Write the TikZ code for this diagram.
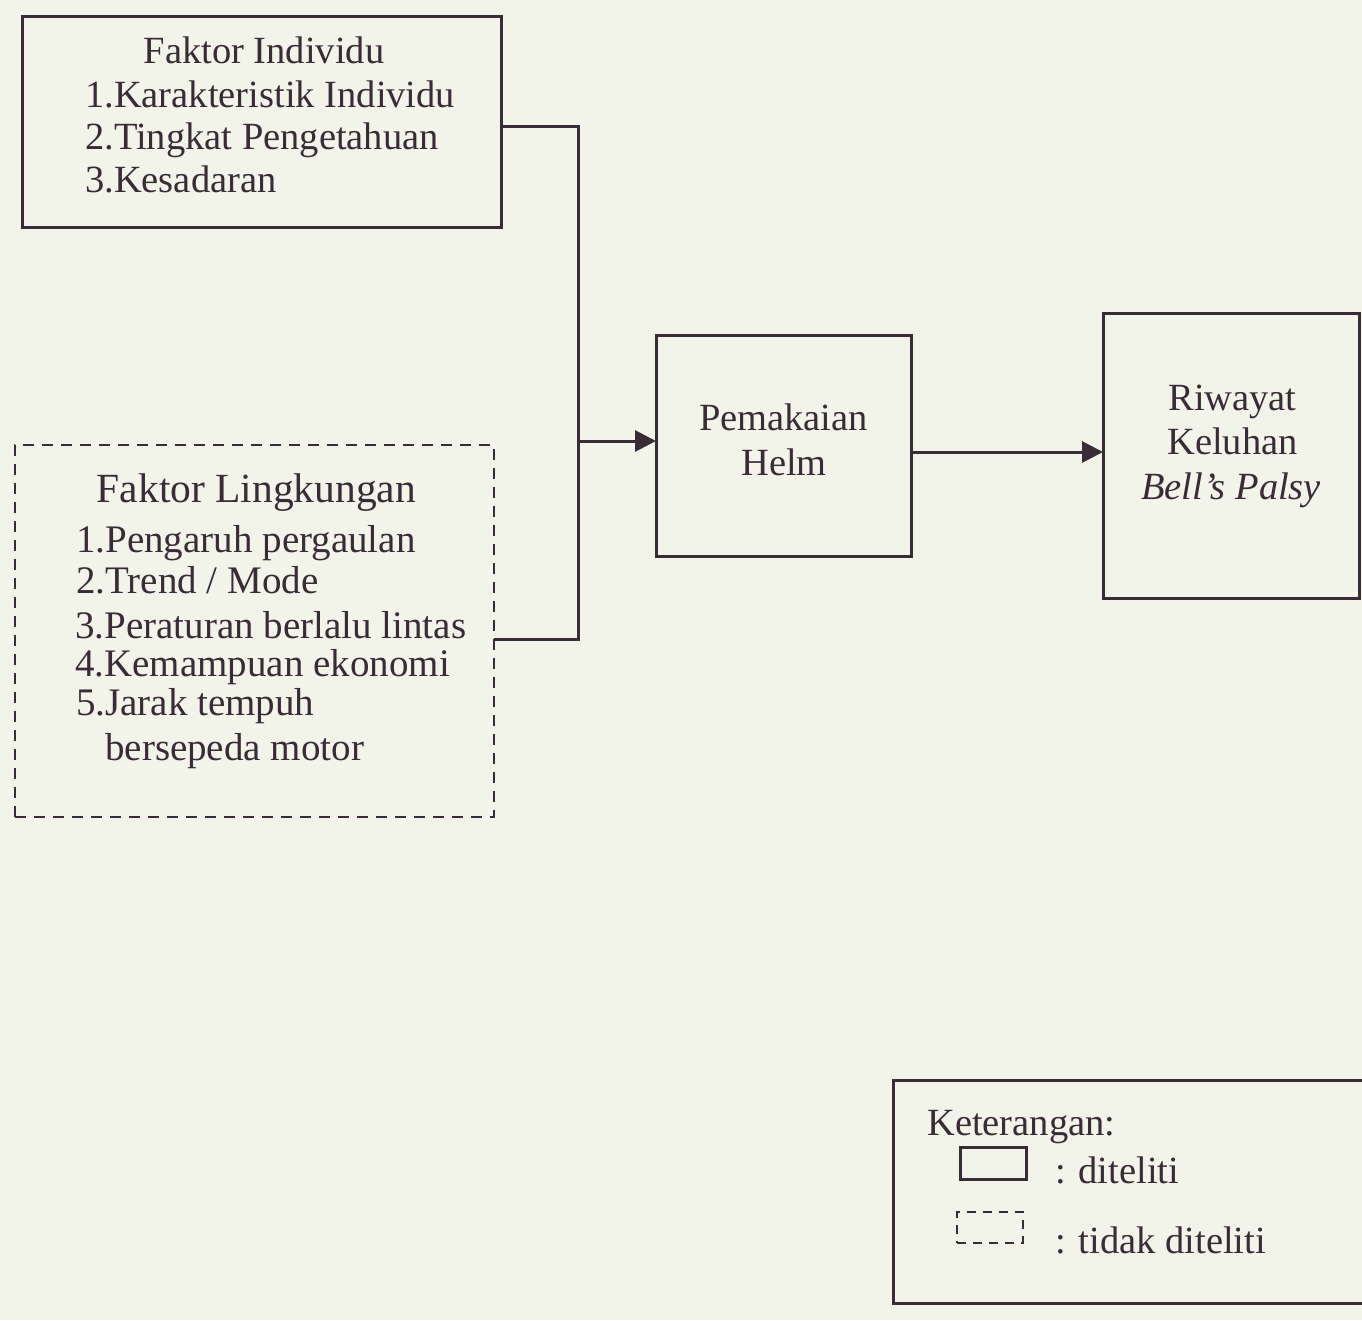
\documentclass[tikz,border=0pt]{standalone}
\usepackage{fontspec}
\setmainfont{Liberation Serif}
\usetikzlibrary{arrows.meta}
\definecolor{ink}{HTML}{3A2C36}
\definecolor{paper}{HTML}{F2F4EA}
\newcommand\fsz[1]{\fontsize{#1}{#1}\selectfont}
\begin{document}
\begin{tikzpicture}[x=1pt,y=-1pt,
  box/.style={draw=ink,line width=3pt,inner sep=0pt,outer sep=0pt},
  dbox/.style={box,line width=2.8pt,dash pattern=on 11pt off 8pt},
  txt/.style={text=ink,inner sep=0pt,anchor=base west,font=\fsz{38.5}},
  txtc/.style={txt,anchor=base},
  conn/.style={draw=ink,line width=3pt},
  arr/.style={conn,-{Triangle[length=21pt,width=21pt]}}]
\fill[paper] (0,0) rectangle (1362,1320);
\useasboundingbox (0,0) rectangle (1362,1320);
% boxes
\node[box,minimum width=479pt,minimum height=211pt] (indiv) at (261.5,121.5) {};
\node[dbox,minimum width=479pt,minimum height=372pt] (lingk) at (254.5,631) {};
\node[box,minimum width=255pt,minimum height=221pt] (helm) at (783.5,445.5) {};
\node[box,minimum width=256pt,minimum height=285pt] (riwayat) at (1231,455.5) {};
\node[box,minimum width=482pt,minimum height=223pt] (legend) at (1134,1191.5) {};
\node[box,minimum width=66pt,minimum height=32pt] (legsolid) at (993,1163) {};
\node[dbox,dash pattern=on 9pt off 7pt,minimum width=66pt,minimum height=31pt] (legdash) at (990,1227.5) {};
% texts: Faktor Individu
\node[txtc] (t1) at (264,63) {Faktor Individu};
\node[txt] (t2) at (85,107) {1.Karakteristik Individu};
\node[txt] (t3) at (85,149) {2.Tingkat Pengetahuan};
\node[txt] (t4) at (85,192) {3.Kesadaran};
% Faktor Lingkungan
\node[txtc,font=\fsz{41.5}] (l0) at (256.5,502) {Faktor Lingkungan};
\node[txt,font=\fsz{39}] (l1) at (76,552) {1.Pengaruh pergaulan};
\node[txt,font=\fsz{39}] (l2) at (76,593) {2.Trend / Mode};
\node[txt,font=\fsz{39}] (l3) at (75,638) {3.Peraturan berlalu lintas};
\node[txt,font=\fsz{39}] (l4) at (75,676) {4.Kemampuan ekonomi};
\node[txt,font=\fsz{39}] (l5) at (76,715) {5.Jarak tempuh};
\node[txt,font=\fsz{39}] (l6) at (105,760) {bersepeda motor};
% Pemakaian Helm
\node[txtc] (h1) at (783.5,430) {Pemakaian};
\node[txtc] (h2) at (784,475) {Helm};
% Riwayat
\node[txtc] (r1) at (1232.5,410) {Riwayat};
\node[txtc] (r2) at (1232.5,454) {Keluhan};
\node[txtc] (r3) at (1231,499) {\itshape Bell’s Palsy};
% legend
\node[txt] (k0) at (927,1135) {Keterangan:};
\node[txt] (k1) at (1055,1183) {: diteliti};
\node[txt] (k2) at (1055,1253) {: tidak diteliti};
% connectors
\coordinate (jt) at (578,126);
\coordinate (jb) at (578,639);
\coordinate (ja) at (578,441);
\coordinate (hr) at (1000,452);
\draw[conn] (indiv.east |- jt) -- (jt) -- (jb) -- (lingk.east |- jb);
\draw[arr] (ja) -- (helm.west |- ja);
\draw[arr] (helm.east |- hr) -- (riwayat.west |- hr);
\end{tikzpicture}
\end{document}
